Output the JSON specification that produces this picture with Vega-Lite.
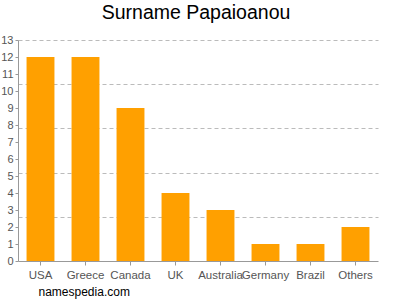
{
  "$schema": "https://vega.github.io/schema/vega-lite/v6.json",
  "width": 360,
  "height": 221,
  "autosize": {"type": "none"},
  "padding": {"left": 18, "top": 40, "right": 22, "bottom": 39},
  "background": "white",
  "config": {
    "font": "Liberation Sans",
    "view": {"stroke": null}
  },
  "title": {
    "text": "Surname Papaioanou",
    "fontSize": 19.5,
    "fontWeight": "normal",
    "color": "#000000",
    "anchor": "middle",
    "dx": -2,
    "offset": 11
  },
  "data": {
    "values": [
      {"country": "USA", "count": 12},
      {"country": "Greece", "count": 12},
      {"country": "Canada", "count": 9},
      {"country": "UK", "count": 4},
      {"country": "Australia", "count": 3},
      {"country": "Germany", "count": 1},
      {"country": "Brazil", "count": 1},
      {"country": "Others", "count": 2}
    ]
  },
  "encoding": {
    "x": {
      "field": "country",
      "type": "nominal",
      "sort": null,
      "scale": {"paddingInner": 0.38, "paddingOuter": 0.19},
      "axis": {
        "title": "namespedia.com",
        "titleFontSize": 12,
        "titleFontWeight": "normal",
        "titleColor": "#000000",
        "titleAnchor": "start",
        "titleAlign": "left",
        "titleBaseline": "middle",
        "titleX": 20,
        "titleY": 30,
        "labelAngle": 0,
        "labelFontSize": 11.5,
        "labelColor": "#555555",
        "labelPadding": 4,
        "domainColor": "#999999",
        "tickColor": "#999999",
        "tickSize": 4,
        "grid": false
      }
    }
  },
  "resolve": {"axis": {"y": "independent"}},
  "layer": [
    {
      "mark": {"type": "bar", "opacity": 0},
      "encoding": {
        "y": {
          "field": "count",
          "type": "quantitative",
          "scale": {"domain": [0, 13], "nice": false},
          "axis": {
            "orient": "left",
            "title": null,
            "values": [2.6, 5.2, 7.8, 10.4, 13],
            "labels": false,
            "ticks": false,
            "domain": false,
            "grid": true,
            "gridColor": "#bbbbbb",
            "gridDash": [4, 3],
            "gridWidth": 1
          }
        }
      }
    },
    {
      "mark": {"type": "bar", "color": "#FFA000"},
      "encoding": {
        "y": {
          "field": "count",
          "type": "quantitative",
          "scale": {"domain": [0, 13], "nice": false},
          "axis": {
            "orient": "left",
            "title": null,
            "values": [0,1,2,3,4,5,6,7,8,9,10,11,12,13],
            "labelFontSize": 11,
            "labelColor": "#555555",
            "labelPadding": 2,
            "domainColor": "#999999",
            "tickColor": "#999999",
            "tickSize": 3,
            "grid": false
          }
        }
      }
    }
  ]
}
